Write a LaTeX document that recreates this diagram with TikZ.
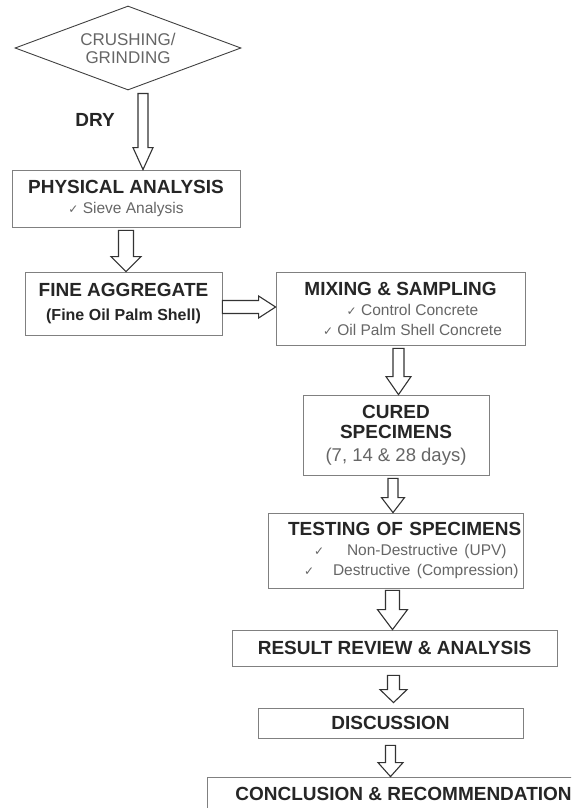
\documentclass[tikz,border=0pt]{standalone}
\usepackage{fontspec}
\setmainfont{Liberation Sans}
\newfontfamily\symfont{DejaVu Sans}
\usetikzlibrary{shapes.geometric,calc}

\newcommand{\hd}{\bfseries\fontsize{19}{20}\selectfont}
\newcommand{\sm}{\mdseries\fontsize{15.5}{18}\selectfont\color{black!60}}
\newcommand{\tick}{{\symfont\fontsize{12}{12}\selectfont ✓}}

\tikzset{
  box/.style={draw=black!50, line width=.8pt, fill=white, inner sep=0pt, align=center, text=black!85, font=\hd},
  hollow/.style n args={3}{draw=black!80, line width=1.1pt, fill=white, to path={
    ($(\tikztostart)!#1!90:(\tikztotarget)$) --
    ($(\tikztotarget)!#3!(\tikztostart)!#1!-90:(\tikztostart)$) --
    ($(\tikztotarget)!#3!(\tikztostart)!#2!-90:(\tikztostart)$) --
    (\tikztotarget) --
    ($(\tikztotarget)!#3!(\tikztostart)!#2!90:(\tikztostart)$) --
    ($(\tikztotarget)!#3!(\tikztostart)!#1!90:(\tikztostart)$) --
    ($(\tikztostart)!#1!-90:(\tikztotarget)$) -- cycle}}
}

\begin{document}
\begin{tikzpicture}[x=1pt,y=-1pt]
    \useasboundingbox (0,0) rectangle (571,808);
    \clip (0,0) rectangle (571,808);

    \node[diamond, aspect=2.69, draw=black!75, line width=.9pt, minimum width=226pt, minimum height=84pt, inner sep=0pt,
          align=center, text=black!60, font=\fontsize{17}{18}\selectfont] (crush) at (128,48) {CRUSHING/\\GRINDING};
    \node[font=\hd, text=black!85] (dry) at (95,120) {DRY};

    \node[box, minimum width=228pt, minimum height=57pt] (phys) at (126,198.5)
        {PHYSICAL ANALYSIS\\{\sm\tick\ Sieve Analysis}};
    \node[box, minimum width=197pt, minimum height=63pt] (fine) at (123.5,303.5)
        {FINE AGGREGATE\\[4pt]{\fontsize{16}{18}\selectfont(Fine Oil Palm Shell)}};
    \node[box, minimum width=249pt, minimum height=73pt] (mix) at (400.5,308.5)
        {MIXING \& SAMPLING\\{\sm\hspace*{24pt}\tick\ Control Concrete}\\{\sm\hspace*{24pt}\tick\ Oil Palm Shell Concrete}};
    \node[box, minimum width=186pt, minimum height=80pt] (cure) at (396,435)
        {CURED\\SPECIMENS\\[3pt]{\mdseries\fontsize{18.5}{20}\selectfont\color{black!60}(7, 14 \& 28 days)}};
    \node[box, align=left, text width=255pt, minimum height=75pt] (test) at (395.5,550.5)
        {\hspace*{20pt}TESTING OF SPECIMENS\\
         {\sm\hspace*{46pt}\makebox[33pt][l]{\tick}Non-Destructive (UPV)}\\
         {\sm\hspace*{36pt}\makebox[29pt][l]{\tick}Destructive (Compression)}};
    \node[box, minimum width=325pt, minimum height=36pt] (res) at (394.5,648) {RESULT REVIEW \& ANALYSIS};
    \node[box, minimum width=265pt, minimum height=30pt] (disc) at (390.5,723) {DISCUSSION};
    \node[box, minimum width=393pt, minimum height=33pt] (concl) at (403.5,793.5) {CONCLUSION \& RECOMMENDATION};

    % arrow ends
    \coordinate (a1s) at ([shift={(15pt,-3pt)}]crush.south);
    \coordinate (a1e) at (a1s |- phys.north);
    \coordinate (a2s) at ([yshift=-3pt]phys.south);
    \coordinate (a2e) at (a2s |- fine.north);
    \coordinate (a3s) at ([yshift=-3.5pt]fine.east);
    \coordinate (a3e) at (a3s -| mix.west);
    \coordinate (a4s) at ([shift={(-2pt,-3pt)}]mix.south);
    \coordinate (a4e) at (a4s |- cure.north);
    \coordinate (a5s) at ([shift={(-3pt,-3pt)}]cure.south);
    \coordinate (a5e) at (a5s |- test.north);
    \coordinate (a6s) at ([shift={(-3pt,-2pt)}]test.south);
    \coordinate (a6e) at (a6s |- res.north);
    \coordinate (a7s) at ([shift={(-1pt,-9pt)}]res.south);
    \coordinate (a7e) at ($(a7s |- disc.north)+(0,-5)$);
    \coordinate (a8s) at ([yshift=-7pt]disc.south);
    \coordinate (a8e) at (a8s |- concl.north);

    \foreach \s/\e/\sw/\hw/\hl in {a1s/a1e/5/10/22, a2s/a2e/7.5/15/15, a3s/a3e/6.5/11/17,
        a4s/a4e/5.5/12.5/18, a5s/a5e/5/11.5/15, a6s/a6e/7/15/20, a7s/a7e/6/13.5/13, a8s/a8e/5/12.5/14}
    \draw[hollow={\sw pt}{\hw pt}{\hl pt}] (\s) to (\e);
\end{tikzpicture}
\end{document}
